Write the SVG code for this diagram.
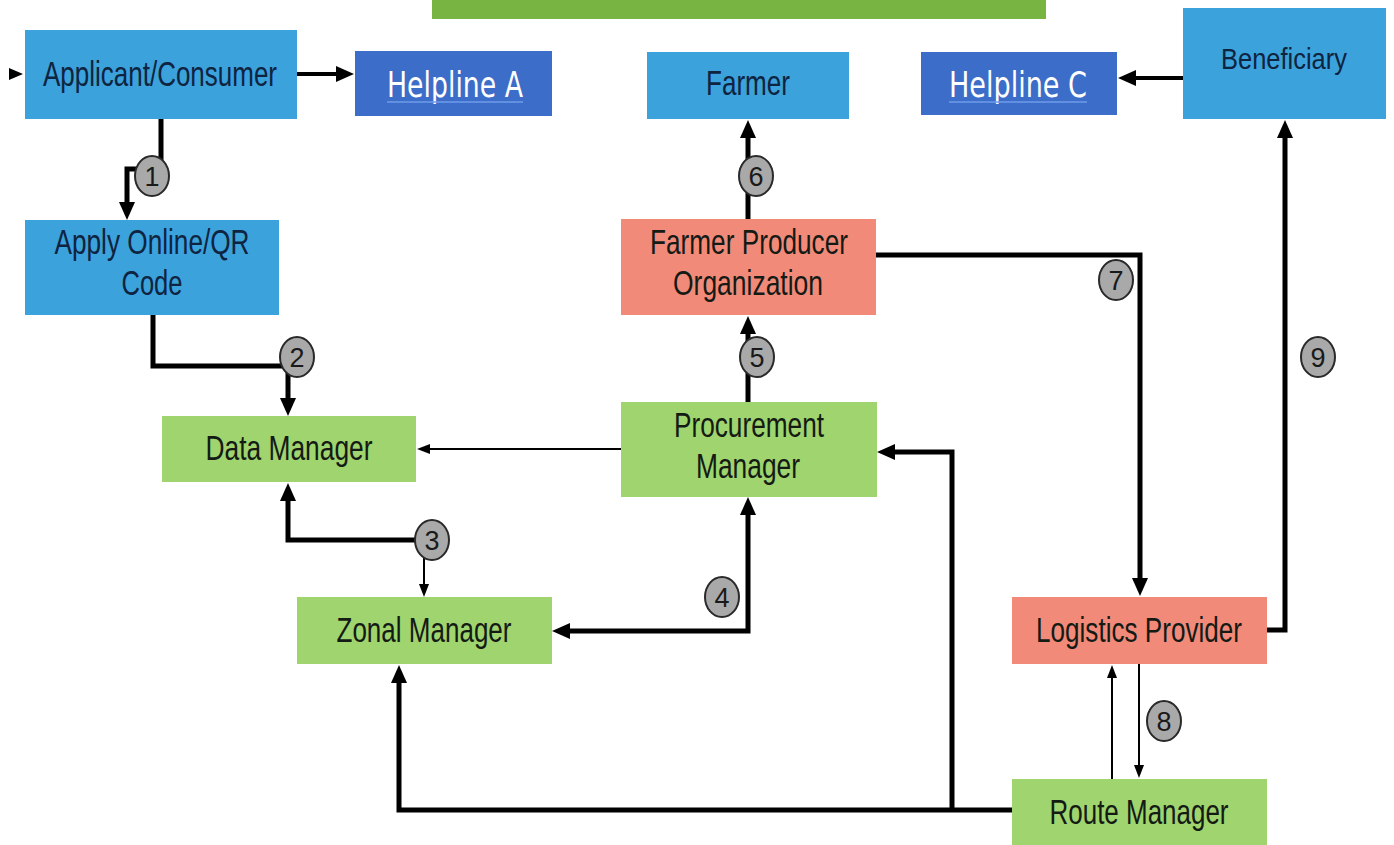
<svg xmlns="http://www.w3.org/2000/svg" width="1394" height="845" viewBox="0 0 1394 845">
<style>
.blue{fill:#3ba2dc}
.help{fill:#3c6dc8}
.green{fill:#9fd46e}
.red{fill:#f28a7a}
.t{font-family:"Liberation Sans",Arial,sans-serif;font-size:35px;fill:#141a14;text-anchor:middle}
.tb{fill:#0f2440}
.th{font-family:"DejaVu Sans","Liberation Sans",sans-serif;font-size:35px;fill:#ffffff;text-anchor:middle}
.ul{stroke:#6e9cec;stroke-width:1.5}
.thick{fill:none;stroke:#000;stroke-width:5;marker-end:url(#ah)}
.mid{fill:none;stroke:#000;stroke-width:4;marker-end:url(#ah)}
.thin{fill:none;stroke:#000;stroke-width:2;marker-end:url(#as)}
.num ellipse{fill:#a9a9a9;stroke:#2a2a2a;stroke-width:2}
.num text{font-family:"Liberation Sans",Arial,sans-serif;font-size:27px;fill:#1a1a1a;text-anchor:middle}
</style>
<defs>
<marker id="ah" markerUnits="userSpaceOnUse" markerWidth="18" markerHeight="16" refX="7" refY="8" orient="auto-start-reverse" viewBox="0 0 18 16"><path d="M0,0 L18,8 L0,16 z" fill="#000"/></marker>
<marker id="as" markerUnits="userSpaceOnUse" markerWidth="13" markerHeight="10" refX="4" refY="5" orient="auto-start-reverse" viewBox="0 0 13 10"><path d="M0,0 L13,5 L0,10 z" fill="#000"/></marker>
</defs>
<rect width="1394" height="845" fill="#ffffff"/>
<rect x="432" y="0" width="614" height="19" fill="#78b442"/>

<g id="connectors">
<polygon points="9,68 23,74 9,80" fill="#000"/>
<path class="mid" d="M297 74 H343"/>
<path class="mid" d="M1183 78 H1129"/>
<path class="thick" d="M161 119 V169 H127 V209"/>
<path class="thick" d="M153 315 V366 H288 V405"/>
<path class="thick" d="M424 540 H288 V494"/>
<path class="thin" d="M424 556 V588"/>
<path class="thick" d="M748 508 V631 H563" style="marker-start:url(#ah)"/>
<path class="thick" d="M748 402 V327"/>
<path class="thick" d="M748 219 V131"/>
<path class="thick" d="M876 255 H1140 V585"/>
<path class="thin" d="M1139 664 V769"/>
<path class="thin" d="M1112 779 V674"/>
<path class="thick" d="M1267 630 H1285 V131"/>
<path class="thin" d="M621 449 H426"/>
<path class="thick" d="M1012 810 H399 V676"/>
<path class="thick" d="M952 810 V452 H888"/>
<g class="num">
<ellipse cx="152" cy="176" rx="17" ry="20"/><text x="152" y="186">1</text>
<ellipse cx="297" cy="357" rx="17" ry="20"/><text x="297" y="367">2</text>
<ellipse cx="432" cy="540" rx="17" ry="20"/><text x="432" y="550">3</text>
<ellipse cx="722" cy="597" rx="17" ry="20"/><text x="722" y="607">4</text>
<ellipse cx="757" cy="357" rx="17" ry="20"/><text x="757" y="367">5</text>
<ellipse cx="756" cy="176" rx="17" ry="20"/><text x="756" y="186">6</text>
<ellipse cx="1116" cy="280" rx="17" ry="20"/><text x="1116" y="290">7</text>
<ellipse cx="1164" cy="721" rx="17" ry="20"/><text x="1164" y="731">8</text>
<ellipse cx="1318" cy="357" rx="17" ry="20"/><text x="1318" y="367">9</text>
</g>
</g>

<g id="applicant"><rect class="blue" x="25" y="30" width="272" height="89"/><text class="t tb" x="160" y="86" textLength="234" lengthAdjust="spacingAndGlyphs">Applicant/Consumer</text></g>
<g id="helpline-a"><rect class="help" x="355" y="51" width="197" height="65"/><text class="th" x="455" y="97" textLength="136" lengthAdjust="spacingAndGlyphs">Helpline  A</text><line class="ul" x1="387" y1="102" x2="523" y2="102"/></g>
<g id="farmer"><rect class="blue" x="647" y="52" width="202" height="67"/><text class="t tb" x="748" y="95" textLength="84" lengthAdjust="spacingAndGlyphs">Farmer</text></g>
<g id="helpline-c"><rect class="help" x="921" y="52" width="196" height="63"/><text class="th" x="1018" y="97" textLength="138" lengthAdjust="spacingAndGlyphs">Helpline  C</text><line class="ul" x1="949" y1="102" x2="1087" y2="102"/></g>
<g id="beneficiary"><rect class="blue" x="1183" y="8" width="203" height="111"/><text class="t tb" x="1284" y="69" style="font-size:29px" textLength="126" lengthAdjust="spacingAndGlyphs">Beneficiary</text></g>
<g id="apply-online"><rect class="blue" x="25" y="220" width="254" height="95"/><text class="t tb" x="152" y="254" textLength="195" lengthAdjust="spacingAndGlyphs">Apply Online/QR</text><text class="t tb" x="152" y="295" textLength="61" lengthAdjust="spacingAndGlyphs">Code</text></g>
<g id="fpo"><rect class="red" x="621" y="219" width="255" height="96"/><text class="t" x="749" y="254" textLength="198" lengthAdjust="spacingAndGlyphs">Farmer Producer</text><text class="t" x="748" y="295" textLength="150" lengthAdjust="spacingAndGlyphs">Organization</text></g>
<g id="data-manager"><rect class="green" x="162" y="416" width="254" height="66"/><text class="t" x="289" y="460" textLength="167" lengthAdjust="spacingAndGlyphs">Data Manager</text></g>
<g id="procurement-manager"><rect class="green" x="621" y="402" width="256" height="95"/><text class="t" x="749" y="437" textLength="150" lengthAdjust="spacingAndGlyphs">Procurement</text><text class="t" x="748" y="478" textLength="104" lengthAdjust="spacingAndGlyphs">Manager</text></g>
<g id="zonal-manager"><rect class="green" x="297" y="597" width="255" height="67"/><text class="t" x="424" y="642" textLength="175" lengthAdjust="spacingAndGlyphs">Zonal Manager</text></g>
<g id="logistics-provider"><rect class="red" x="1012" y="597" width="255" height="67"/><text class="t" x="1139" y="642" textLength="206" lengthAdjust="spacingAndGlyphs">Logistics Provider</text></g>
<g id="route-manager"><rect class="green" x="1012" y="779" width="255" height="66"/><text class="t" x="1139" y="824" textLength="179" lengthAdjust="spacingAndGlyphs">Route Manager</text></g>
</svg>
